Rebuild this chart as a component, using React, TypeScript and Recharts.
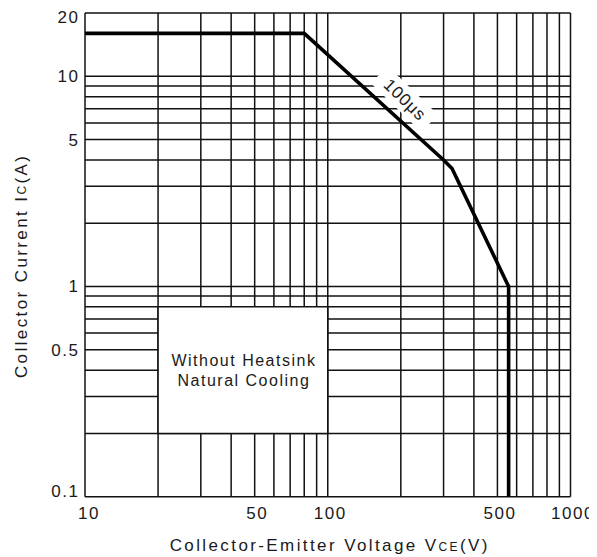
import React from "react";
import {
  LineChart,
  Line,
  XAxis,
  YAxis,
  CartesianGrid,
  ReferenceArea,
  ReferenceDot,
} from "recharts";

const xGridTicks = [10, 20, 30, 40, 50, 60, 70, 80, 90, 100, 200, 300, 400, 500, 600, 700, 800, 900, 1000];
const xLabelTicks = [10, 50, 100, 500, 1000];
const yGridTicks = [0.1, 0.2, 0.3, 0.4, 0.5, 0.6, 0.7, 0.8, 0.9, 1, 2, 3, 4, 5, 6, 7, 8, 9, 10, 20];
const yLabelTicks = [0.1, 0.5, 1, 5, 10, 20];

const vceValues = [10, 80, 300, 325, 556, 556];
const icValues = [16, 16, 4, 3.64, 1, 0.1];

const soaData = vceValues.map((v, i) => ({ vce: v, ic: icValues[i] }));

const FONT = "'Liberation Sans', Arial, Helvetica, sans-serif";
const INK = "#1a1a1a";
const GRID = "#111111";

const XTick = (props: any) => {
  const { x, y, payload } = props;
  const v = payload.value;
  if (!xLabelTicks.includes(v)) return null;
  const dx = v === 10 ? 4 : 2.5;
  return (
    <text x={x + dx} y={y + 22} textAnchor="middle" fontFamily={FONT} fontSize={17} letterSpacing={1.5} fill={INK}>
      {String(v)}
    </text>
  );
};

const YTick = (props: any) => {
  const { x, y, payload } = props;
  const v = payload.value;
  if (!yLabelTicks.includes(v)) return null;
  let dy = 6;
  if (v === 20) dy += 4;
  if (v === 0.1) dy -= 6;
  return (
    <text x={x + 1.5} y={y + dy} textAnchor="end" fontFamily={FONT} fontSize={17} letterSpacing={1.5} fill={INK}>
      {String(v)}
    </text>
  );
};

const XTitle = (props: any) => {
  const vb = props.viewBox || {};
  const cx = vb.x + vb.width / 2;
  return (
    <text x={cx + 2} y={vb.y + 54} textAnchor="middle" fontFamily={FONT} fontSize={17} letterSpacing={2.4} fill={INK}>
      Collector-Emitter Voltage V<tspan fontSize={12}>CE</tspan>(V)
    </text>
  );
};

const YTitle = (props: any) => {
  const vb = props.viewBox || {};
  const cx = 14;
  const cy = vb.y + vb.height / 2 + 11;
  return (
    <text
      x={cx}
      y={cy}
      transform={`rotate(-90, ${cx}, ${cy})`}
      textAnchor="middle"
      dominantBaseline="central"
      fontFamily={FONT}
      fontSize={17}
      letterSpacing={2.4}
      fill={INK}
    >
      Collector Current I<tspan fontSize={12}>C</tspan>(A)
    </text>
  );
};

const BoxLabel = (props: any) => {
  const vb = props.viewBox || {};
  const cx = vb.x + vb.width / 2;
  const cy = vb.y + vb.height / 2;
  return (
    <g>
      <text x={cx + 1} y={cy - 4} textAnchor="middle" fontFamily={FONT} fontSize={16} letterSpacing={1.5} fill={INK}>
        Without Heatsink
      </text>
      <text x={cx + 1} y={cy + 16} textAnchor="middle" fontFamily={FONT} fontSize={16} letterSpacing={1.5} fill={INK}>
        Natural Cooling
      </text>
    </g>
  );
};

const PulseLabel = (props: any) => {
  const { cx, cy } = props;
  if (cx == null || cy == null) return null;
  return (
    <g transform={`translate(${cx},${cy}) rotate(44)`}>
      <rect x={-35} y={-12} width={70} height={24} fill="#ffffff" />
      <text x={1} y={6} textAnchor="middle" fontFamily={FONT} fontSize={17} letterSpacing={1} fill={INK}>
        100μs
      </text>
    </g>
  );
};

export default function App() {
  return (
    <div style={{ width: 589, height: 549 }}>
      <style>{`html, body { overflow: hidden; }`}</style>
      <LineChart
        width={589}
        height={549}
        data={soaData}
        margin={{ top: 5, right: 26.5, left: 0, bottom: 0 }}
      >
        <CartesianGrid stroke={GRID} strokeWidth={1.5} fill="none" />
        <XAxis
          dataKey="vce"
          type="number"
          scale="log"
          domain={[10, 1000]}
          allowDataOverflow
          ticks={xGridTicks}
          interval={0}
          tick={<XTick />}
          tickLine={false}
          axisLine={false}
          tickSize={0}
          tickMargin={0}
          height={60.3}
          label={XTitle}
        />
        <YAxis
          type="number"
          scale="log"
          domain={[0.1, 20]}
          allowDataOverflow
          ticks={yGridTicks}
          interval={0}
          tick={<YTick />}
          tickLine={false}
          axisLine={false}
          tickSize={0}
          tickMargin={7}
          width={77}
          label={YTitle}
        />
        <ReferenceArea
          x1={20}
          x2={100}
          y1={0.2}
          y2={0.8}
          fill="#ffffff"
          fillOpacity={1}
          stroke={GRID}
          strokeWidth={1.5}
          label={BoxLabel}
        />
        <ReferenceDot x={207} y={7.8} r={0} shape={PulseLabel} />
        <Line
          dataKey="ic"
          type="linear"
          stroke="#000000"
          strokeWidth={3.6}
          dot={false}
          isAnimationActive={false}
        />
      </LineChart>
    </div>
  );
}
